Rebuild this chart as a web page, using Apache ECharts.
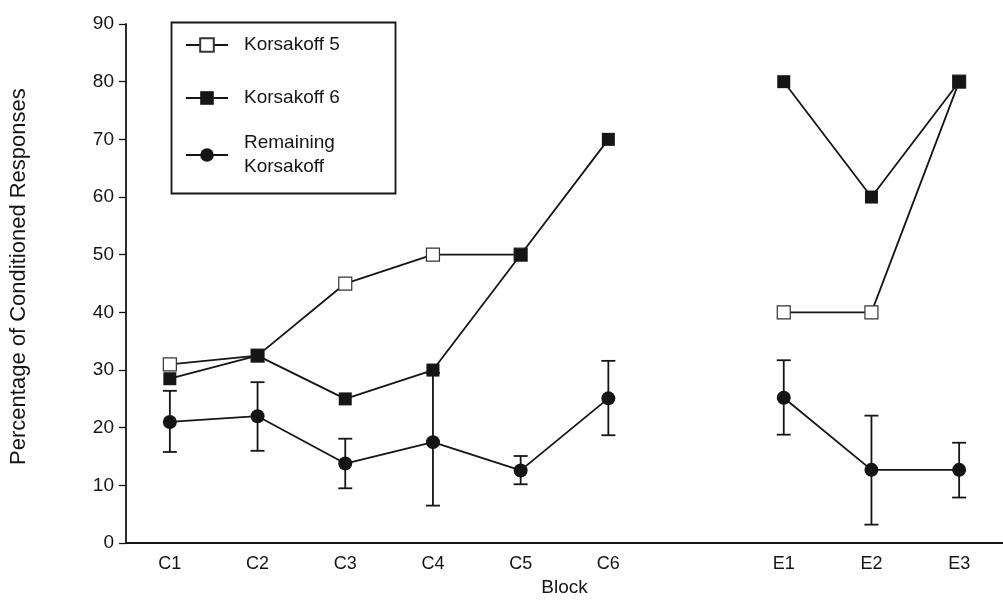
<!DOCTYPE html>
<html>
<head>
<meta charset="utf-8">
<script src="https://cdn.jsdelivr.net/npm/echarts@6/dist/echarts.min.js"></script>
<style>
html,body{margin:0;padding:0;background:#fff;}
#chart{width:1003px;height:602px;}
</style>
</head>
<body>
<div id="chart"></div>
<script>
const categories = ['C1','C2','C3','C4','C5','C6','','E1','E2','E3'];
const korsakoff5 = [31, 32.5, 45, 50, 50, null, null, 40, 40, 80];
const korsakoff6 = [28.5, 32.5, 25, 30, 50, 70, null, 80, 60, 80];
const remaining = [21, 22, 13.8, 17.5, 12.6, 25.1, null, 25.2, 12.7, 12.7];
const remainingLow = [15.8, 16, 9.5, 6.5, 10.2, 18.7, null, 18.8, 3.2, 7.9];
const remainingHigh = [26.4, 27.9, 18.1, 29.5, 15.1, 31.6, null, 31.7, 22.1, 17.4];
const yTicks = [0,10,20,30,40,50,60,70,80,90];

const FONT = '"Liberation Sans", Arial, Helvetica, sans-serif';
const INK = '#151515';

const errData = [];
categories.forEach((c, i) => {
  if (remainingLow[i] != null && remainingHigh[i] != null) errData.push([i, remainingLow[i], remainingHigh[i]]);
});

const chart = echarts.init(document.getElementById('chart'), null, {renderer: 'canvas'});

function legendFor(name, top) {
  return {
    data: [name],
    left: 185,
    top: top,
    orient: 'vertical',
    padding: 0,
    itemWidth: 42,
    itemHeight: 17,
    selectedMode: false,
    textStyle: {fontFamily: FONT, fontSize: 19, color: INK, lineHeight: 24, padding: [0, 0, 0, 11]}
  };
}

chart.setOption({
  animation: false,
  backgroundColor: '#fff',
  grid: {left: 124, top: 24, width: 891, height: 526, containLabel: false},
  legend: [
    legendFor('Korsakoff 5', 33),
    legendFor('Korsakoff 6', 86),
    legendFor('Remaining\nKorsakoff', 131)
  ],
  graphic: [{
    type: 'rect', left: 169, top: 20, z: 100,
    shape: {width: 224, height: 171},
    style: {fill: 'none', stroke: INK, lineWidth: 1.8}
  }],
  xAxis: {
    type: 'category',
    data: categories,
    boundaryGap: true,
    name: 'Block',
    nameLocation: 'middle',
    nameGap: 34,
    nameTextStyle: {fontFamily: FONT, fontSize: 19, color: INK},
    axisLine: {lineStyle: {color: INK, width: 1.8}},
    axisTick: {alignWithLabel: true, length: 9, lineStyle: {color: INK, width: 1.3}},
    axisLabel: {fontFamily: FONT, fontSize: 18, color: INK, margin: 12, interval: 0},
    splitLine: {show: false}
  },
  yAxis: {
    type: 'value',
    min: 0, max: 90, interval: 10,
    name: 'Percentage of Conditioned Responses',
    nameLocation: 'middle',
    nameGap: 96,
    nameRotate: 90,
    nameTextStyle: {fontFamily: FONT, fontSize: 22, color: INK, padding: [0, 0, 0, 14]},
    axisLine: {show: true, lineStyle: {color: INK, width: 1.8}},
    axisTick: {show: true, length: 7, lineStyle: {color: INK, width: 1.3}},
    axisLabel: {fontFamily: FONT, fontSize: 19, color: INK, margin: 12,
      formatter: v => yTicks.indexOf(v) >= 0 ? String(v) : ''},
    splitLine: {show: false}
  },
  series: [
    {
      name: 'Remaining error',
      type: 'custom',
      z: 1,
      data: errData,
      renderItem: function (params, api) {
        const x = api.value(0);
        const lo = api.coord([x, api.value(1)]);
        const hi = api.coord([x, api.value(2)]);
        const hw = 7;
        const st = {stroke: INK, lineWidth: 1.8, fill: 'none'};
        return {
          type: 'group',
          children: [
            {type: 'line', shape: {x1: lo[0], y1: lo[1], x2: hi[0], y2: hi[1]}, style: st},
            {type: 'line', shape: {x1: lo[0]-hw, y1: lo[1], x2: lo[0]+hw, y2: lo[1]}, style: st},
            {type: 'line', shape: {x1: hi[0]-hw, y1: hi[1], x2: hi[0]+hw, y2: hi[1]}, style: st}
          ]
        };
      }
    },
    {
      name: 'Korsakoff 5',
      type: 'line',
      z: 3,
      data: korsakoff5,
      connectNulls: false,
      symbol: 'rect',
      symbolSize: 13,
      lineStyle: {color: INK, width: 1.8},
      itemStyle: {color: '#fff', borderColor: '#333', borderWidth: 1.2}
    },
    {
      name: 'Korsakoff 6',
      type: 'line',
      z: 4,
      data: korsakoff6,
      connectNulls: false,
      symbol: 'rect',
      symbolSize: 13,
      lineStyle: {color: INK, width: 1.8},
      itemStyle: {color: INK, borderWidth: 0}
    },
    {
      name: 'Remaining\nKorsakoff',
      type: 'line',
      z: 5,
      data: remaining,
      connectNulls: false,
      symbol: 'circle',
      symbolSize: 14,
      lineStyle: {color: INK, width: 1.8},
      itemStyle: {color: INK, borderWidth: 0}
    }
  ]
});
</script>
</body>
</html>
